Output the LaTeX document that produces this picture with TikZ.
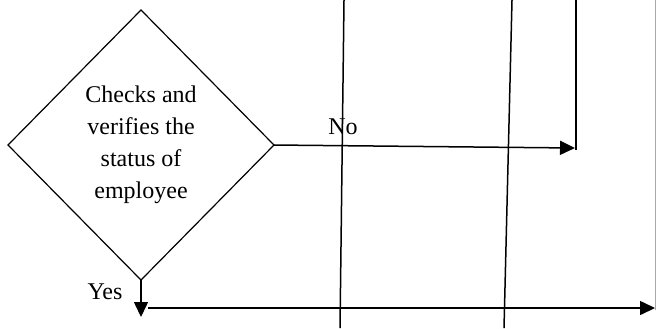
\documentclass[tikz,border=0pt]{standalone}
\usepackage{fontspec}
\setmainfont{Liberation Serif}
\usetikzlibrary{arrows.meta,shapes.geometric}
\definecolor{flowInk}{HTML}{000000}
\definecolor{flowEdge}{HTML}{A8A8A8}
\tikzset{
  % Decision: the one shape in this cut of the chart.
  flow/gate/.style={
    draw=flowInk, diamond, line width=0.6pt, inner sep=0pt, outer sep=0pt,
    minimum width=133pt, minimum height=135pt, align=center,
    font=\fontsize{12}{16}\selectfont
  },
  % Arrows and plain lines.
  flow/arrow/.style={
    -{Triangle[length=7.5pt,width=7pt]}, line width=0.75pt, draw=flowInk
  },
  flow/line/.style={line width=0.75pt, draw=flowInk},
  % Branch labels.
  flow/label/.style={font=\fontsize{12}{14}\selectfont, inner sep=0pt},
}

\begin{document}
\begin{tikzpicture}[x=0.5pt,y=-0.5pt]
  \useasboundingbox (0,0) rectangle (656,328);
  \node[flow/gate] (chk) at (141,145) {Checks and\\verifies the\\status of\\employee};
  % lines running through from other parts of the chart
  \coordinate (l1t) at (344,0);   \coordinate (l1b) at (340,328);
  \coordinate (l2t) at (512,0);   \coordinate (l2b) at (504,328);
  \coordinate (rt) at (576,0);    \coordinate (rb) at (576,150);
  \coordinate (et) at (655.4,0);  \coordinate (eb) at (655.4,310);
  \draw[flow/line] (l1t) -- (l1b);
  \draw[flow/line] (l2t) -- (l2b);
  \draw[flow/line, line width=1pt] (rt) -- (rb);
  \draw[line width=0.4pt, draw=flowEdge] (et) -- (eb);
  % No branch
  \coordinate (noEnd) at (575,148);
  \draw[flow/arrow] (chk.east) -- (noEnd);
  \node[flow/label] (no) at (343,126.5) {No};
  % Yes branch
  \coordinate (yesEnd) at (141,317);
  \draw[flow/arrow] (chk.south) -- (yesEnd);
  \node[flow/label] (yes) at (105,291.5) {Yes};
  \coordinate (botStart) at (148,308);
  \coordinate (botEnd) at (655,308);
  \draw[flow/arrow] (botStart) -- (botEnd);
\end{tikzpicture}
\end{document}
